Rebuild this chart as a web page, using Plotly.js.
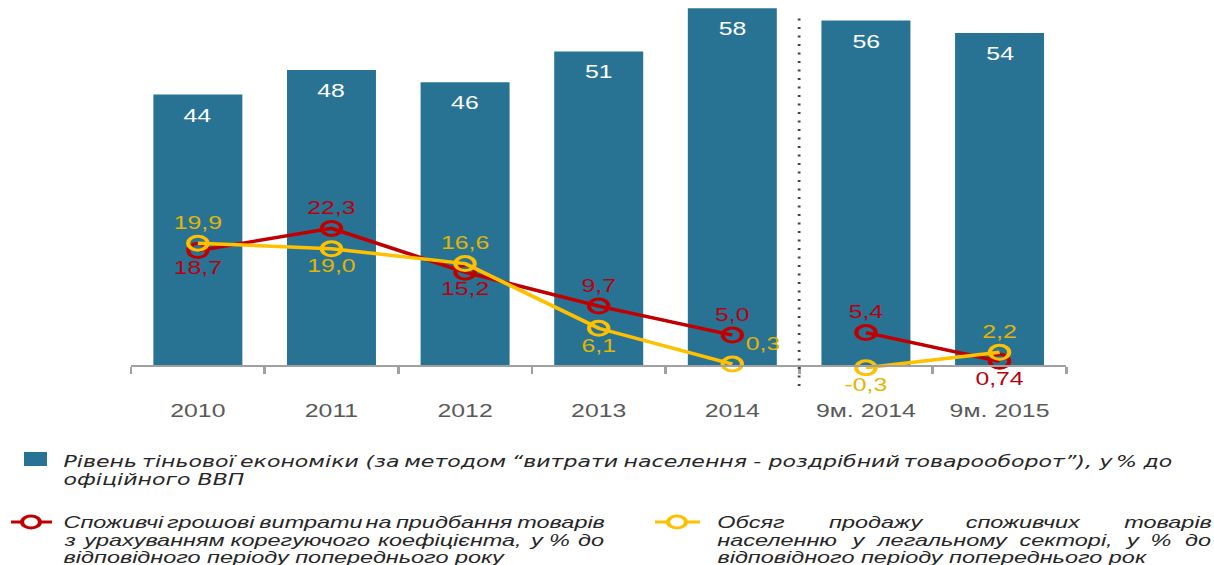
<!DOCTYPE html>
<html>
<head>
<meta charset="utf-8">
<script src="https://cdn.plot.ly/plotly-3.0.1.min.js"></script>
<style>
  html, body { margin: 0; padding: 0; background: #ffffff; overflow: hidden; }
  #chart { width: 880px; height: 565px; transform: scaleX(1.3795); transform-origin: 0 0; }
</style>
</head>
<body>
<div id="chart"></div>
<script>
// ---- data ----
const categories = ['2010', '2011', '2012', '2013', '2014', '9м. 2014', '9м. 2015'];
const shadowEconomy = [44, 48, 46, 51, 58, 56, 54];
const consumerSpending = [18.7, 22.3, 15.2, 9.7, 5.0, 5.4, 0.74];
const retailVolume = [19.9, 19.0, 16.6, 6.1, 0.3, -0.3, 2.2];
const spendingLabels = ['18,7', '22,3', '15,2', '9,7', '5,0', '5,4', '0,74'];
const retailLabels = ['19,9', '19,0', '16,6', '6,1', '0,3', '-0,3', '2,2'];
const annualCount = 5; // first 5 categories are full years, the rest are 9-month periods

const legendBarText = ['Рівень тіньової економіки (за методом “витрати населення - роздрібний товарооборот”), у % до', 'офіційного ВВП'];
const legendRedText = ['Споживчі грошові витрати на придбання товарів', 'з урахуванням корегуючого коефіцієнта, у % до', 'відповідного періоду попереднього року'];
const legendYellowText = ['Обсяг продажу споживчих товарів', 'населенню у легальному секторі, у % до', 'відповідного періоду попереднього рок'];

// ---- styles ----
const BAR = '#287393';
const RED = '#C00000';
const YEL = '#FFC000';
const RED_TXT = '#B8000F';
const YEL_TXT = '#E3B500';
const FONT = 'Liberation Sans, Arial, sans-serif';
const WIDE_FONT = 'DejaVu Sans, Verdana, sans-serif';

const spendingPos = ['bottom center', 'top center', 'bottom center', 'top center', 'top center', 'top center', 'bottom center'];
const retailPos = ['top center', 'bottom center', 'top center', 'bottom center', 'top right', 'bottom center', 'top center'];

function seg(arr, part) { return part === 0 ? arr.slice(0, annualCount) : arr.slice(annualCount); }

const traces = [{
  type: 'bar', x: categories, y: shadowEconomy, marker: { color: BAR },
  hoverinfo: 'skip', showlegend: false
}];

[0, 1].forEach(function (p) {
  traces.push({
    type: 'scatter', mode: 'lines+markers+text', x: seg(categories, p), y: seg(consumerSpending, p),
    text: seg(spendingLabels, p), textposition: seg(spendingPos, p),
    textfont: { family: FONT, size: 18, color: RED_TXT },
    line: { color: RED, width: 3.5 },
    marker: { symbol: 'circle-open', size: 14, color: RED, line: { width: 3, color: RED } },
    cliponaxis: false, showlegend: false, hoverinfo: 'skip'
  });
});
[0, 1].forEach(function (p) {
  traces.push({
    type: 'scatter', mode: 'lines+markers+text', x: seg(categories, p), y: seg(retailVolume, p),
    text: seg(retailLabels, p), textposition: seg(retailPos, p),
    textfont: { family: FONT, size: 18, color: YEL_TXT },
    line: { color: YEL, width: 3.5 },
    marker: { symbol: 'circle-open', size: 14, color: YEL, line: { width: 3, color: YEL } },
    cliponaxis: false, showlegend: false, hoverinfo: 'skip'
  });
});

// bar value labels (x given as category index)
const annotations = categories.map(function (c, i) {
  return { x: i, y: shadowEconomy[i], xref: 'x', yref: 'y', text: String(shadowEconomy[i]),
    showarrow: false, yshift: -21, font: { family: FONT, size: 18, color: '#ffffff' } };
});

// y range: a little below zero so that negative points stay visible
const Y0 = -0.5, Y1 = 58.2;

// custom legend (paper coords); page is stretched horizontally by S
const L = 95, PW = 678, B = 369, PH = 362, S = 1.3795;
function px(x) { return (x / S - L) / PW; }
function py(y) { return (B - y) / PH; }
const ctx = document.createElement('canvas').getContext('2d');

function addWord(t, x, y, f) {
  annotations.push({ xref: 'paper', yref: 'paper', x: px(x), y: py(y), xanchor: 'left', yanchor: 'middle',
    text: t, showarrow: false, font: { family: f.family, size: f.size, color: '#262626', style: 'italic' }, borderpad: 0 });
}
// justified line between screen x0 and x1
function addJustified(text, x0, x1, y, f) {
  ctx.font = 'italic ' + f.size + 'px ' + f.family.split(',').map(function (s) { return '"' + s.trim() + '"'; }).join(',');
  const words = text.split(' ');
  const widths = words.map(function (w) { return ctx.measureText(w).width * S; });
  const total = widths.reduce(function (a, b) { return a + b; }, 0);
  const gap = (x1 - x0 - total) / (words.length - 1);
  let x = x0;
  words.forEach(function (w, i) { addWord(w, x, y, f); x += widths[i] + gap; });
}
function addParagraph(lines, x0, x1, ys, f) {
  lines.forEach(function (t, i) {
    if (i < lines.length - 1) addJustified(t, x0, x1, ys[i], f);
    else addWord(t.replace(/ /g, '\u00A0'), x0, ys[i], f);
  });
}
addParagraph(legendBarText, 62, 1170, [461, 479], { family: WIDE_FONT, size: 16 });
addParagraph(legendRedText, 62, 603, [522, 540, 557], { family: FONT, size: 17 });
addParagraph(legendYellowText, 716, 1210, [522, 540, 557], { family: FONT, size: 17 });

const shapes = [
  // separator between annual and 9-month data
  { type: 'line', xref: 'x', yref: 'paper', x0: 4.5, x1: 4.5, y0: py(386), y1: py(18),
    line: { color: '#444444', width: 2, dash: '2px,6.5px' } },
  // legend symbols
  { type: 'rect', xref: 'paper', yref: 'paper', x0: px(24), x1: px(47), y0: py(466), y1: py(452),
    fillcolor: BAR, line: { width: 0 } },
  { type: 'line', xref: 'paper', yref: 'paper', x0: px(11), x1: px(52), y0: py(522), y1: py(522),
    line: { color: RED, width: 3 } },
  { type: 'circle', xref: 'paper', yref: 'paper', x0: px(31) - 6.5 / PW, x1: px(31) + 6.5 / PW,
    y0: py(522) - 6 / PH, y1: py(522) + 6 / PH, fillcolor: '#ffffff', line: { color: RED, width: 3 } },
  { type: 'line', xref: 'paper', yref: 'paper', x0: px(655), x1: px(700), y0: py(522), y1: py(522),
    line: { color: YEL, width: 3 } },
  { type: 'circle', xref: 'paper', yref: 'paper', x0: px(677) - 6.5 / PW, x1: px(677) + 6.5 / PW,
    y0: py(522) - 6 / PH, y1: py(522) + 6 / PH, fillcolor: '#ffffff', line: { color: YEL, width: 3 } }
];

const layout = {
  width: 880, height: 565, autosize: false,
  margin: { l: 95, r: 107, t: 7, b: 196, pad: 0 },
  paper_bgcolor: '#ffffff', plot_bgcolor: '#ffffff',
  bargap: 0.334, showlegend: false,
  font: { family: FONT },
  xaxis: {
    type: 'category', range: [-0.5, categories.length - 0.5], autorange: false,
    anchor: 'free', position: (0 - Y0) / (Y1 - Y0),
    showline: true, linecolor: '#A0A0A0', linewidth: 2,
    ticks: 'outside', tickson: 'boundaries', ticklen: 7, tickwidth: 2, tickcolor: '#A0A0A0',
    ticklabelstandoff: 28, showgrid: false, zeroline: false,
    tickfont: { family: FONT, size: 18, color: '#595959' }, fixedrange: true
  },
  yaxis: { range: [Y0, Y1], autorange: false, visible: false, showgrid: false, zeroline: false, fixedrange: true },
  annotations: annotations,
  shapes: shapes
};

Plotly.newPlot('chart', traces, layout, { displayModeBar: false, staticPlot: true });
</script>
</body>
</html>
